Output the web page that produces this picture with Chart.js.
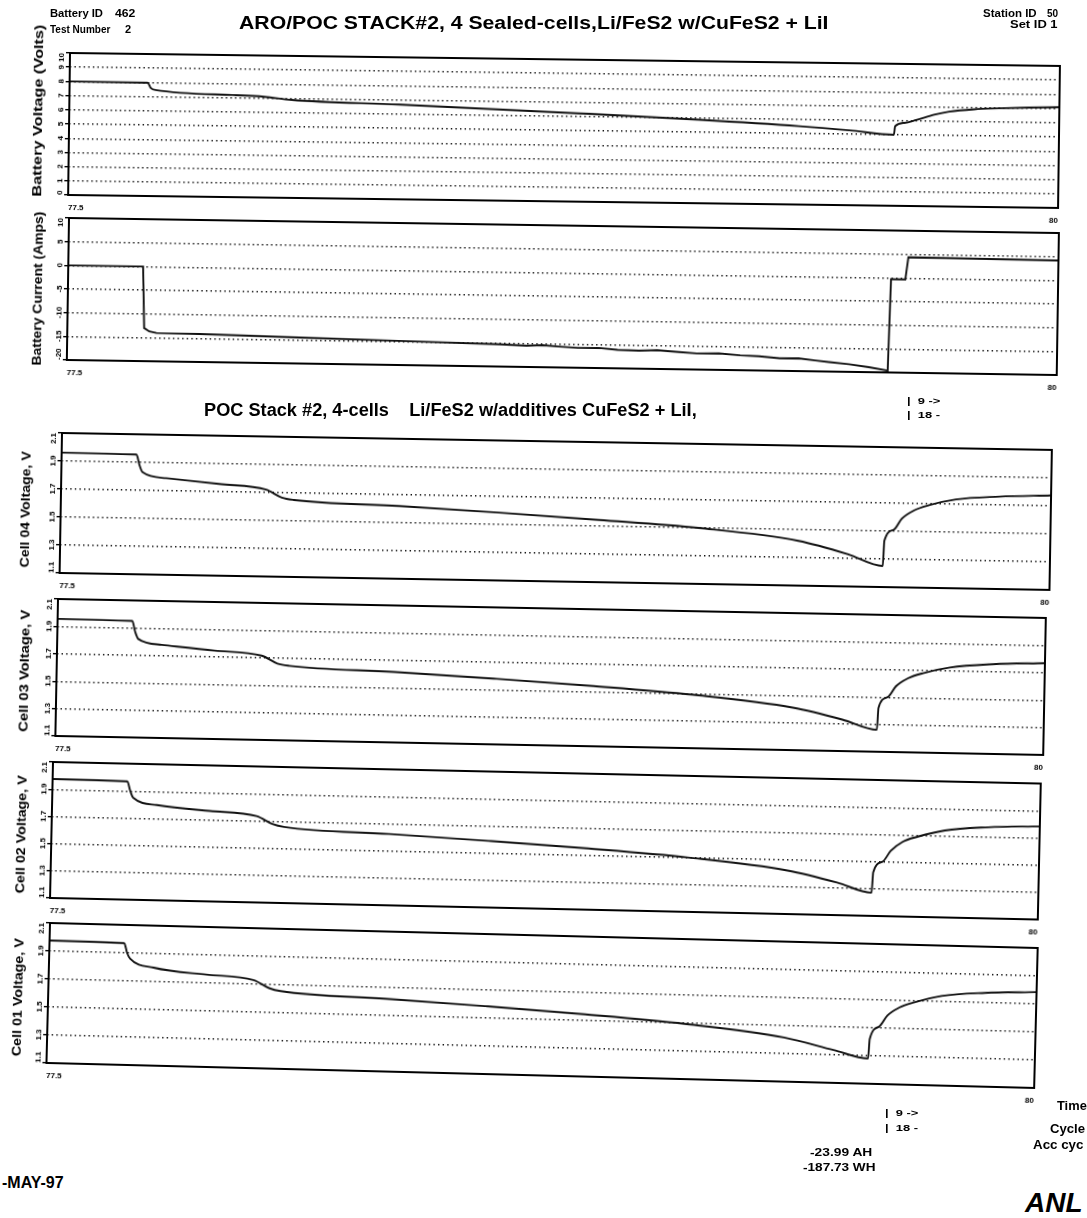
<!DOCTYPE html>
<html>
<head>
<meta charset="utf-8">
<title>POC Stack #2</title>
<script src="https://cdn.jsdelivr.net/npm/chart.js@4.4.1/dist/chart.umd.min.js"></script>
<style>
  body { margin: 0; background: #fff; }
  #page { position: relative; width: 1087px; height: 1218px; overflow: hidden;
          font-family: "Liberation Sans", Arial, sans-serif; color: #000; background: #fff; }
  #page canvas { position: absolute; }
  .txt { position: absolute; font-weight: bold; white-space: pre; line-height: 1;
         transform-origin: 0 50%; }
</style>
</head>
<body>
<div id="page"></div>
<script>
// time axis (hours)
var timeMin = 77.5;
var timeMax = 80;
var timeTickLabels = ['77.5', '80'];

var voltTicks = [0, 1, 2, 3, 4, 5, 6, 7, 8, 9, 10];
var voltTickLabels = ['0', '1', '2', '3', '4', '5', '6', '7', '8', '9', '10'];
var ampTicks = [-20, -15, -10, -5, 0, 5, 10];
var ampTickLabels = ['-20', '-15', '-10', '-5', '0', '5', '10'];
var cellTicks = [1.1, 1.3, 1.5, 1.7, 1.9, 2.1];
var cellTickLabels = ['1.1', '1.3', '1.5', '1.7', '1.9', '2.1'];

// battery voltage
var battTime = [77.5, 77.697, 77.705, 77.717, 77.912, 77.992, 78.061, 78.333, 78.788, 79.091,
                79.343, 79.47, 79.583, 79.586, 79.609, 79.639, 79.684, 79.722, 79.785, 79.848,
                79.924, 80.0];
var battVolts = [8.0, 7.98, 7.62, 7.47, 7.19, 7.1, 6.9, 6.67, 6.22, 5.88,
                 5.52, 5.27, 5.0, 5.6, 5.85, 6.06, 6.45, 6.68, 6.87, 6.96,
                 7.04, 7.09];

// battery current (the logged trace gets ragged late in the discharge)
var ampTime = [77.5, 77.689, 77.694, 77.707, 77.725, 77.833, 78.086, 78.338, 78.591, 78.66,
               78.70, 78.742, 78.79, 78.843, 78.89, 78.944, 78.99, 79.045, 79.09, 79.146,
               79.2, 79.247, 79.3, 79.348, 79.39, 79.424, 79.475, 79.525, 79.573, 79.578,
               79.614, 79.621, 80.0];
var battAmps = [0, 0, -13.0, -13.7, -14.0, -14.1, -14.5, -14.9, -15.3, -15.5,
                -15.35, -15.6, -15.8, -15.75, -16.1, -16.2, -16.05, -16.35, -16.6, -16.5,
                -16.85, -17.0, -17.35, -17.3, -17.7, -18.0, -18.4, -18.95, -19.6, -0.3,
                -0.3, 4.4, 4.2];

// cell voltages, all on the same time base
var cellTime = [77.5, 77.689, 77.697, 77.705, 77.765, 77.899, 78.018, 78.058, 78.088, 78.354,
                78.606, 78.859, 79.111, 79.364, 79.49, 79.578, 79.581, 79.604, 79.624, 79.654,
                79.692, 79.76, 79.869, 80.0];
var cell04 = [1.96, 1.955, 1.88, 1.83, 1.79, 1.755, 1.72, 1.665, 1.65, 1.62,
              1.585, 1.545, 1.5, 1.42, 1.33, 1.25, 1.43, 1.51, 1.59, 1.65,
              1.69, 1.735, 1.76, 1.775];
var cell03 = [1.955, 1.95, 1.87, 1.82, 1.78, 1.745, 1.715, 1.66, 1.645, 1.615,
              1.58, 1.54, 1.49, 1.41, 1.33, 1.26, 1.42, 1.5, 1.58, 1.64,
              1.68, 1.725, 1.755, 1.77];
var cell02 = [1.975, 1.97, 1.9, 1.85, 1.80, 1.765, 1.735, 1.68, 1.66, 1.625,
              1.59, 1.55, 1.5, 1.42, 1.34, 1.27, 1.42, 1.5, 1.58, 1.65,
              1.69, 1.74, 1.77, 1.785];
var cell01 = [1.975, 1.97, 1.9, 1.86, 1.80, 1.76, 1.73, 1.675, 1.655, 1.62,
              1.585, 1.545, 1.495, 1.415, 1.335, 1.28, 1.42, 1.51, 1.59, 1.65,
              1.69, 1.74, 1.77, 1.785];

var FONT = '"Liberation Sans", Arial, sans-serif';
Chart.defaults.font.family = FONT;
Chart.defaults.color = '#000';

var page = document.getElementById('page');

// room around the plot box inside each canvas (top is generous so the
// battery voltage title can run above its box)
var offL = 48, offT = 40, offR = 40, offB = 24;

// box + rotated tick labels + stretched axis title
var frame = {
  id: 'frame',
  afterDraw: function(chart, args, opts) {
    var ctx = chart.ctx;
    var a = chart.chartArea;
    var ys = chart.scales.y;
    ctx.save();
    ctx.strokeStyle = '#000';
    ctx.fillStyle = '#000';
    ctx.lineWidth = 2;
    ctx.strokeRect(a.left, a.top, a.right - a.left, a.bottom - a.top);

    ctx.font = 'bold 8px ' + FONT;
    ctx.textAlign = 'center';
    ctx.textBaseline = 'middle';
    ys.ticks.forEach(function(tick, i) {
      var label = opts.labels[i];
      var half = ctx.measureText(label).width / 2;
      var py = ys.getPixelForValue(tick.value);
      py = Math.min(Math.max(py, a.top + half), a.bottom - half);
      ctx.save();
      ctx.translate(a.left - 8, py);
      ctx.rotate(-Math.PI / 2);
      ctx.fillText(label, 0, 0);
      ctx.restore();
    });

    ctx.font = 'bold 12px ' + FONT;
    var w = ctx.measureText(opts.title).width;
    ctx.translate(a.left - opts.titleOff, (a.top + a.bottom) / 2 + opts.titleShift);
    ctx.rotate(-Math.PI / 2);
    ctx.scale(opts.titleLen / w, 1);
    ctx.fillText(opts.title, 0, 0);
    ctx.restore();
  }
};

var panels = [
  {title: 'Battery Voltage (Volts)', time: battTime, values: battVolts, min: 0, max: 10,
   ticks: voltTicks, labels: voltTickLabels, smooth: true,
   x: 70, y: 53, w: 990, h: 142, angle: 0.75, titleOff: 30, titleShift: -13, titleLen: 172},
  {title: 'Battery Current (Amps)', time: ampTime, values: battAmps, min: -20, max: 10,
   ticks: ampTicks, labels: ampTickLabels, smooth: false,
   x: 69, y: 218, w: 990, h: 142, angle: 0.87, titleOff: 29, titleShift: 0, titleLen: 154},
  {title: 'Cell 04 Voltage, V', time: cellTime, values: cell04, min: 1.1, max: 2.1,
   ticks: cellTicks, labels: cellTickLabels, smooth: true,
   x: 62, y: 433, w: 990, h: 140, angle: 0.98, titleOff: 34, titleShift: 7, titleLen: 116},
  {title: 'Cell 03 Voltage, V', time: cellTime, values: cell03, min: 1.1, max: 2.1,
   ticks: cellTicks, labels: cellTickLabels, smooth: true,
   x: 58, y: 599, w: 988, h: 137, angle: 1.1, titleOff: 31, titleShift: 4, titleLen: 122},
  {title: 'Cell 02 Voltage, V', time: cellTime, values: cell02, min: 1.1, max: 2.1,
   ticks: cellTicks, labels: cellTickLabels, smooth: true,
   x: 53, y: 762, w: 988, h: 136, angle: 1.25, titleOff: 29, titleShift: 5, titleLen: 118},
  {title: 'Cell 01 Voltage, V', time: cellTime, values: cell01, min: 1.1, max: 2.1,
   ticks: cellTicks, labels: cellTickLabels, smooth: true,
   x: 50, y: 923, w: 988, h: 140, angle: 1.45, titleOff: 29, titleShift: 5, titleLen: 118}
];

function makePanel(p) {
  var cv = document.createElement('canvas');
  cv.width = offL + p.w + offR;
  cv.height = offT + p.h + offB;
  cv.style.left = (p.x - offL) + 'px';
  cv.style.top = (p.y - offT) + 'px';
  cv.style.transformOrigin = offL + 'px ' + offT + 'px';
  cv.style.transform = 'rotate(' + p.angle + 'deg)';
  page.appendChild(cv);

  var points = p.time.map(function(t, i) { return {x: t, y: p.values[i]}; });

  return new Chart(cv, {
    type: 'line',
    data: {
      datasets: [{
        data: points,
        borderColor: '#111',
        borderWidth: 1.9,
        pointRadius: 0,
        cubicInterpolationMode: p.smooth ? 'monotone' : 'default',
        tension: 0,
        fill: false
      }]
    },
    options: {
      responsive: false,
      animation: false,
      events: [],
      layout: {padding: {left: 0, top: offT, right: offR, bottom: 0}},
      plugins: {
        legend: {display: false},
        tooltip: {enabled: false},
        frame: {title: p.title, labels: p.labels, titleOff: p.titleOff,
                titleShift: p.titleShift, titleLen: p.titleLen}
      },
      scales: {
        x: {
          type: 'linear', min: timeMin, max: timeMax,
          afterBuildTicks: function(s) { s.ticks = [{value: timeMin}, {value: timeMax}]; },
          afterFit: function(s) { s.height = offB; },
          grid: {display: false, drawTicks: false},
          border: {display: false},
          ticks: {align: 'inner', padding: 8, maxRotation: 0, autoSkip: false,
                  font: {size: 8, weight: 'bold'},
                  callback: function(v, i) { return timeTickLabels[i]; }}
        },
        y: {
          type: 'linear', min: p.min, max: p.max,
          afterBuildTicks: function(s) { s.ticks = p.ticks.map(function(v) { return {value: v}; }); },
          afterFit: function(s) { s.width = offL; },
          ticks: {display: false},
          grid: {color: '#111', lineWidth: 1.4, drawTicks: true, tickLength: 4,
                 tickColor: '#000', tickWidth: 1.4},
          border: {display: false, dash: [1.4, 3.2]}
        }
      }
    },
    plugins: [frame]
  });
}

panels.forEach(makePanel);

// free text around the plots
function addText(str, x, cy, size, opt) {
  opt = opt || {};
  var el = document.createElement('div');
  el.className = 'txt';
  el.textContent = str;
  el.style.fontSize = size + 'px';
  if (opt.italic) el.style.fontStyle = 'italic';
  page.appendChild(el);
  var w = el.offsetWidth, h = el.offsetHeight;
  var sx = opt.width ? opt.width / w : 1;
  var left = opt.right != null ? opt.right - w * sx : x;
  el.style.left = left + 'px';
  el.style.top = (cy - h / 2) + 'px';
  el.style.transform = 'scaleX(' + sx + ')';
  return el;
}

addText('Battery ID', 50, 13, 11, {width: 53});
addText('462', 115, 13, 11, {width: 20});
addText('Test Number', 50, 29, 11, {width: 60});
addText('2', 125, 29, 11);
addText('ARO/POC STACK#2, 4 Sealed-cells,Li/FeS2 w/CuFeS2 + LiI', 239, 24, 17.5, {width: 589});
addText('Station ID', 983, 14, 10, {width: 54});
addText('50', 1047, 14, 10, {width: 11});
addText('Set ID 1', 1010, 25, 10, {width: 48});

addText('POC Stack #2, 4-cells    Li/FeS2 w/additives CuFeS2 + LiI,', 204, 410, 18, {width: 493});
addText('|  9 ->', 907, 401, 9, {width: 33});
addText('|  18 -', 907, 415, 9, {width: 33});

addText('|  9 ->', 885, 1113, 9, {width: 33});
addText('|  18 -', 885, 1128, 9, {width: 33});
addText('Time', 0, 1106, 12, {right: 1087, width: 30});
addText('Cycle', 0, 1129, 12, {right: 1085, width: 35});
addText('Acc cyc', 0, 1145, 12, {right: 1083, width: 50});
addText('-23.99 AH', 0, 1153, 10, {right: 872, width: 62});
addText('-187.73 WH', 0, 1168, 10, {right: 875, width: 72});

addText('-MAY-97', 2, 1183, 16);
addText('ANL', 1025, 1203, 28, {italic: true, width: 58});
</script>
</body>
</html>
